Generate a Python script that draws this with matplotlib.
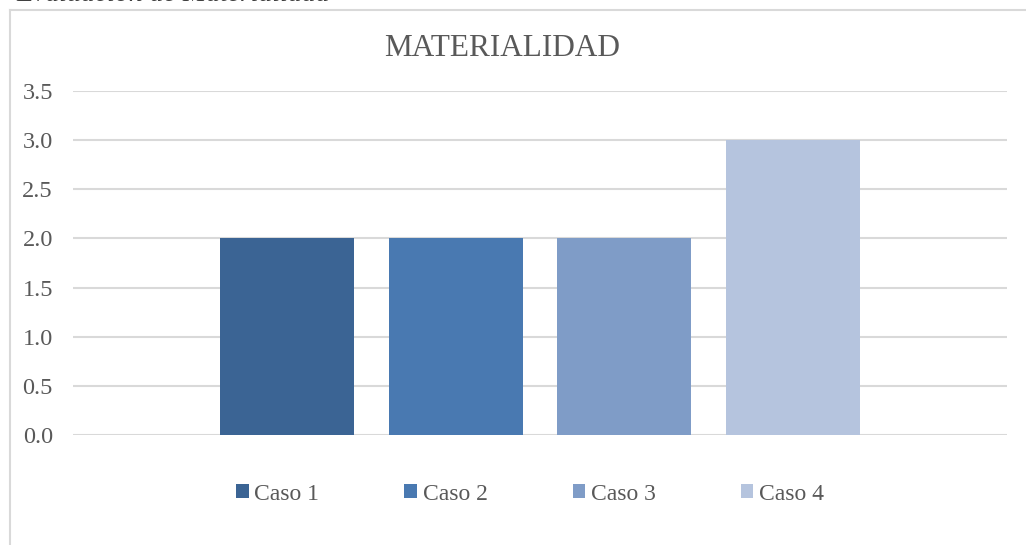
import matplotlib
matplotlib.use("Agg")
import matplotlib.pyplot as plt
from matplotlib.patches import Patch
from matplotlib.lines import Line2D

plt.rcParams['font.family'] = ['Liberation Serif', 'DejaVu Serif']

# Data
series = ["Caso 1", "Caso 2", "Caso 3", "Caso 4"]
values = [2.0, 2.0, 2.0, 3.0]
colors = ["#3B6494", "#4979B1", "#7F9CC7", "#B5C4DE"]
yticks = [0.0, 0.5, 1.0, 1.5, 2.0, 2.5, 3.0, 3.5]
title = "MATERIALIDAD"

W, H = 1026, 545
fig = plt.figure(figsize=(W / 100, H / 100), dpi=100)

# chart frame (left and top borders visible)
fig.add_artist(Line2D([10 / W, 10 / W], [0, 1 - 10 / H], transform=fig.transFigure,
                      color="#d9d9d9", lw=1.5))
fig.add_artist(Line2D([10 / W, 1], [1 - 10 / H, 1 - 10 / H], transform=fig.transFigure,
                      color="#d9d9d9", lw=1.5))

# cut-off caption at the very top
fig.text(330 / W, 1 - 0.6 / H, "Evaluación de Materialidad", ha="right", va="baseline",
         fontsize=20, color="#404040", style="italic")

ax = fig.add_axes([73 / W, 1 - 435 / H, (1007 - 73) / W, (435 - 91) / H])
x = list(range(len(series)))
bars = ax.bar(x, values, width=0.793, color=colors, zorder=3)

ax.set_xlim(1.5 - 2.7635, 1.5 + 2.7635)
ax.set_ylim(0, 3.5)
ax.set_yticks(yticks)
ax.set_yticklabels([f"{v:.1f}" for v in yticks])
ax.set_xticks([])
ax.tick_params(axis="y", length=0, pad=14.5, labelsize=17.5, labelcolor="#595959")
for s in ax.spines.values():
    s.set_visible(False)
ax.yaxis.grid(True, color="#d9d9d9", lw=1.5, zorder=0)
ax.set_axisbelow(True)

fig.text(502 / W, 1 - 48 / H, title, ha="center", va="center", fontsize=22.5, color="#595959")

handles = [Patch(facecolor=c, edgecolor="none") for c in colors]
fig.legend(handles, series, loc="center", bbox_to_anchor=(530 / W, 1 - 494 / H), ncol=4,
           frameon=False, fontsize=17, handlelength=0.52, handleheight=0.52,
           handletextpad=0.25, columnspacing=3.6, labelcolor="#595959")

fig.savefig("out.png", dpi=100)
